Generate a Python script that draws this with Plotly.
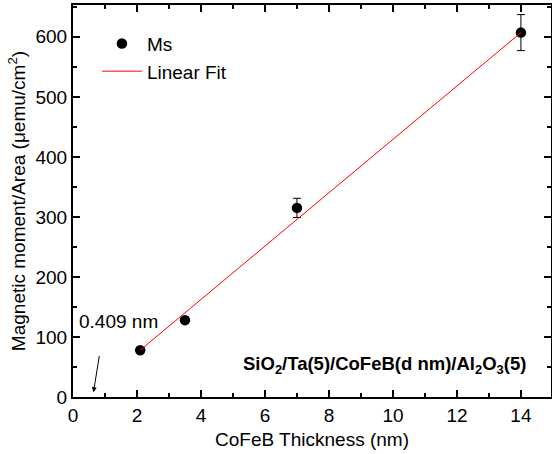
import plotly.graph_objects as go

thickness = [2.1, 3.5, 7.0, 14.0]
ms_values = [78, 128, 315, 607]
ms_errors = [4, 5, 16, 30]
fit_x = [2.1, 14.0]
fit_y = [78, 607]
x_ticks = [0, 2, 4, 6, 8, 10, 12, 14]
y_ticks = [0, 100, 200, 300, 400, 500, 600]

FONT = "Liberation Sans, Arial, sans-serif"
FS = 19

fig = go.Figure()
fig.add_trace(go.Scatter(
    x=thickness, y=ms_values, mode="markers", name="Ms",
    marker=dict(color="black", size=10.5),
    error_y=dict(type="data", array=ms_errors, color="black", thickness=1, width=4),
))
fig.add_trace(go.Scatter(
    x=fit_x, y=fit_y, mode="lines", name="Linear Fit",
    line=dict(color="red", width=1),
))

axis_common = dict(
    showline=True, linecolor="black", linewidth=2, mirror="allticks",
    ticks="inside", ticklen=7, tickwidth=1.5, tickcolor="black",
    showgrid=False, zeroline=False, automargin=False,
    tickfont=dict(family=FONT, size=FS, color="black"),
)

fig.update_xaxes(
    range=[0, 14.94], tickvals=x_ticks,
    minor=dict(dtick=1, ticks="inside", ticklen=4, tickwidth=1.5, tickcolor="black"),
    title=dict(text="CoFeB Thickness (nm)", font=dict(family=FONT, size=FS, color="black"), standoff=8),
    **axis_common,
)
fig.update_yaxes(
    range=[0, 653], tickvals=y_ticks,
    minor=dict(dtick=50, ticks="inside", ticklen=4, tickwidth=1.5, tickcolor="black"),
    title=dict(text="Magnetic moment/Area (\u03bcemu/cm<sup>2</sup>)", font=dict(family=FONT, size=FS, color="black"), standoff=5),
    **axis_common,
)

fig.add_annotation(
    x=0.64, y=8, ax=0.83, ay=71, xref="x", yref="y", axref="x", ayref="y",
    showarrow=True, arrowhead=2, arrowsize=1, arrowwidth=1, arrowcolor="black", text="",
)
fig.add_annotation(
    x=0.12, y=125, xref="x", yref="y", text="0.409 nm", showarrow=False,
    xanchor="left", yanchor="middle", font=dict(family=FONT, size=FS, color="black"),
)
fig.add_annotation(
    x=14.22, y=53, xref="x", yref="y",
    text="<b>SiO<sub>2</sub>/Ta(5)/CoFeB(d nm)/Al<sub>2</sub>O<sub>3</sub>(5)</b>",
    showarrow=False, xanchor="right", yanchor="middle",
    font=dict(family=FONT, size=18.5, color="black"),
)

fig.update_layout(
    width=552, height=454,
    margin=dict(l=73, r=1, t=5, b=57),
    plot_bgcolor="white", paper_bgcolor="white",
    font=dict(family=FONT, size=FS, color="black"),
    showlegend=True,
    legend=dict(x=0.05, y=0.95, xanchor="left", yanchor="top",
                bgcolor="rgba(0,0,0,0)", font=dict(family=FONT, size=FS, color="black"),
                tracegroupgap=0, itemwidth=40),
)

fig.write_html("out.html", config={"displayModeBar": False},
               post_script="document.body.style.margin='0';")
